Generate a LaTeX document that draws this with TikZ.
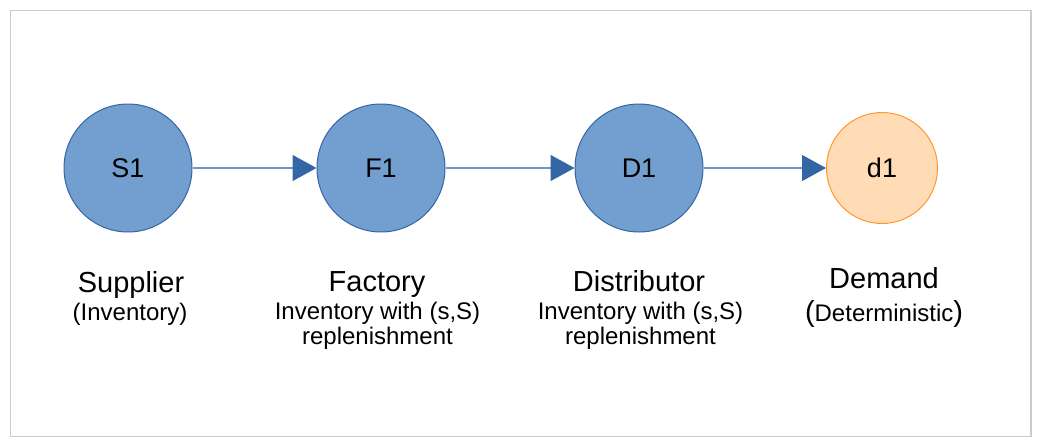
\documentclass[tikz,border=0pt]{standalone}
\usepackage{fontspec}
\setmainfont{Liberation Sans}
\usetikzlibrary{arrows.meta,positioning}
\definecolor{NodeBlue}{HTML}{729FCF}
\definecolor{EdgeBlue}{HTML}{3465A4}
\definecolor{LinkBlue}{HTML}{7393CB}
\definecolor{DemandFill}{HTML}{FFDBB6}
\definecolor{DemandEdge}{HTML}{FF972F}
\definecolor{FrameGray}{HTML}{CCCCCC}
\newcommand{\titlesize}{\fontsize{29}{32}\selectfont}
\tikzset{
  every picture/.style={line width=1pt},
  stagenode/.style={
    circle,
    draw=EdgeBlue,
    fill=NodeBlue,
    minimum size=128pt,
    inner sep=0pt,
    font=\fontsize{27}{30}\selectfont
  },
  demandnode/.style={stagenode, draw=DemandEdge, fill=DemandFill, minimum size=111pt},
  titletext/.style={font=\titlesize, anchor=base, inner sep=0pt},
  subtext/.style={font=\fontsize{24}{25}\selectfont, align=center, anchor=base, inner sep=0pt},
  flowarrow/.style={draw=LinkBlue, line width=1.3pt,
    -{Triangle[length=24pt, width=26pt, color=EdgeBlue]}}
}

\begin{document}
\begin{tikzpicture}[x=1pt, y=-1pt]
  \useasboundingbox (0,0) rectangle (1040,447);
  \draw[FrameGray, line width=1.3pt] (10.5,10.5) rectangle (1031,436.5);

  % stages of the chain
  \node[stagenode] (s1) at (128,168) {S1};
  \node[stagenode] (f1) at (381,168) {F1};
  \node[stagenode] (d1) at (639,168) {D1};
  \node[demandnode] (dem) at (882,168) {d1};

  \draw[flowarrow] (s1) -- (f1);
  \draw[flowarrow] (f1) -- (d1);
  \draw[flowarrow] (d1) -- (dem);

  % labels (base = last line)
  \node[titletext] (s1title) at (131,292) {Supplier};
  \node[subtext] (s1sub) at (130,320) {(Inventory)};
  \node[titletext] (f1title) at (377,291) {Factory};
  \node[subtext] (f1sub) at (377.5,344) {Inventory with (s,S)\\replenishment};
  \node[titletext] (d1title) at (639,291) {Distributor};
  \node[subtext] (d1sub) at (640.5,344) {Inventory with (s,S)\\replenishment};
  \node[titletext] (demtitle) at (884,288) {Demand};
  \node[subtext] (demsub) at (884,321) {{\titlesize(}Deterministic{\titlesize)}};
\end{tikzpicture}
\end{document}
